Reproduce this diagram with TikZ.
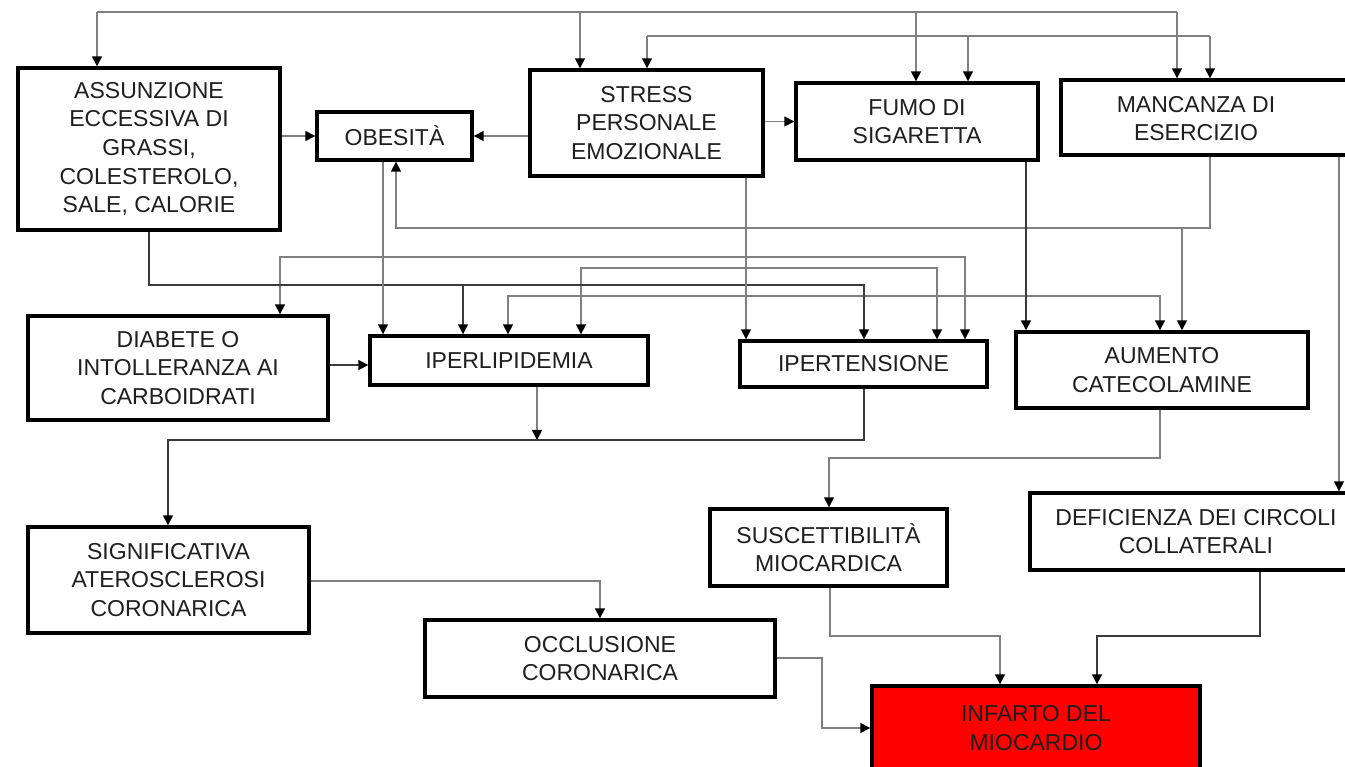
\documentclass[tikz,border=0pt]{standalone}
\usepackage{fontspec}
\setmainfont{Liberation Sans}
\usetikzlibrary{arrows.meta}
\definecolor{lineG}{HTML}{808080}
\definecolor{lineD}{HTML}{3A3A3A}
\definecolor{infred}{HTML}{FF0000}
\definecolor{txt}{HTML}{1E1E1E}
\tikzset{
  boxfont/.style={font=\fontsize{23}{28.7}\selectfont},
  box/.style={draw=black, line width=3.4pt, fill=white, rectangle, inner sep=0pt,
              align=center, boxfont, text=txt},
  lbl/.style={inner sep=0pt, align=center, boxfont, text=txt},
  conn/.style={draw=lineG, line width=1.6pt},
  connd/.style={draw=lineD, line width=1.6pt},
  arr/.style={-{Triangle[length=10pt,width=10pt,color=black]}},
  arrboth/.style={{Triangle[length=10pt,width=10pt,color=black]}-{Triangle[length=10pt,width=10pt,color=black]}},
}
\begin{document}
\begin{tikzpicture}[x=1pt,y=-1pt]
\useasboundingbox (0,0) rectangle (1345,767);
\clip (0,0) rectangle (1345,767);

% ---- boxes ----
\node[box, minimum width=262pt, minimum height=162pt] (assun) at (149,149)
  {ASSUNZIONE\\ECCESSIVA DI\\GRASSI,\\COLESTEROLO,\\SALE, CALORIE};
\node[box, minimum width=155pt, minimum height=48pt] (obes) at (394.5,136) {OBESITÀ};
\node[box, minimum width=233pt, minimum height=106pt] (stress) at (646.5,123)
  {STRESS\\PERSONALE\\EMOZIONALE};
\node[box, minimum width=242pt, minimum height=77pt] (fumo) at (917,121.5) {FUMO DI\\SIGARETTA};
\node[box, minimum width=340pt, minimum height=75pt] (manc) at (1231,117.5) {};
\node[lbl] (manct) at (1196,118.5) {MANCANZA DI\\ESERCIZIO};
\node[box, minimum width=300pt, minimum height=104pt] (diab) at (178,368)
  {DIABETE O\\INTOLLERANZA AI\\CARBOIDRATI};
\node[box, minimum width=278pt, minimum height=49pt] (iperl) at (509,360.5) {IPERLIPIDEMIA};
\node[box, minimum width=247pt, minimum height=46pt] (ipert) at (863.5,364) {IPERTENSIONE};
\node[box, minimum width=292pt, minimum height=76pt] (aum) at (1162,370) {AUMENTO\\CATECOLAMINE};
\node[box, minimum width=237pt, minimum height=77pt] (susc) at (828.5,547.5)
  {SUSCETTIBILITÀ\\MIOCARDICA};
\node[box, minimum width=332pt, minimum height=77pt] (defic) at (1196,531.5)
  {DEFICIENZA DEI CIRCOLI\\COLLATERALI};
\node[box, minimum width=281pt, minimum height=106pt] (signif) at (168.5,580)
  {SIGNIFICATIVA\\ATEROSCLEROSI\\CORONARICA};
\node[box, minimum width=350pt, minimum height=77pt] (occl) at (600,658.5) {OCCLUSIONE\\CORONARICA};
\node[box, fill=infred, minimum width=328pt, minimum height=84pt] (inf) at (1036,728)
  {INFARTO DEL\\MIOCARDIO};

% ---- top feed lines ----
\coordinate (ta) at (97,12);  \coordinate (tc) at (580,12);
\coordinate (td) at (916,12); \coordinate (tb) at (1177,12);
\draw[conn] (ta) -- (tb);
\draw[conn,arr] (ta) -- (ta |- assun.north);
\draw[conn,arr] (tc) -- (tc |- stress.north);
\draw[conn,arr] (td) -- (td |- fumo.north);
\draw[conn,arr] (tb) -- (tb |- manc.north);

\coordinate (sa) at (647,36); \coordinate (sb) at (968,36); \coordinate (sc) at (1210,36);
\draw[conn] (sa) -- (sc);
\draw[conn,arr] (sa) -- (sa |- stress.north);
\draw[conn,arr] (sb) -- (sb |- fumo.north);
\draw[conn,arr] (sc) -- (sc |- manc.north);

% ---- first row links ----
\draw[conn,arr] (assun.east |- obes.west) -- (obes.west);
\draw[conn,arr] (stress.west |- obes.east) -- (obes.east);
\draw[conn,arr] (stress.east |- fumo.west) -- (fumo.west);

% ---- exercise -> obesity / catecholamines ----
\coordinate (m1) at (1210,228); \coordinate (m2) at (396,228); \coordinate (m3) at (1182,228);
\draw[conn,arr] (manc.south -| m1) -- (m1) -- (m2) -- (obes.south -| m2);
\draw[conn,arr] (m3) -- (aum.north -| m3);

% ---- horizontal distribution lines ----
\coordinate (b1) at (280,257); \coordinate (b2) at (965,257);
\draw[conn,arrboth] (diab.north -| b1) -- (b1) -- (b2) -- (ipert.north -| b2);
\coordinate (c1) at (581,268); \coordinate (c2) at (937,268);
\draw[conn,arrboth] (iperl.north -| c1) -- (c1) -- (c2) -- (ipert.north -| c2);
\coordinate (d1) at (508,296); \coordinate (d2) at (1160,296);
\draw[conn,arrboth] (iperl.north -| d1) -- (d1) -- (d2) -- (aum.north -| d2);

\coordinate (a1) at (149,285); \coordinate (a2) at (864,285); \coordinate (a3) at (463,285);
\draw[connd,arr] (assun.south -| a1) -- (a1) -- (a2) -- (ipert.north -| a2);
\draw[connd,arr] (a3) -- (iperl.north -| a3);

% ---- vertical drops ----
\coordinate (xo) at (383,0);
\draw[conn,arr] (obes.south -| xo) -- (iperl.north -| xo);
\coordinate (xs) at (746,0);
\draw[conn,arr] (stress.south -| xs) -- (ipert.north -| xs);
\coordinate (xf) at (1026,0);
\draw[connd,arr] (fumo.south -| xf) -- (aum.north -| xf);
\coordinate (h1) at (1339,0);
\draw[conn,arr] (manc.south -| h1) -- (defic.north -| h1);

\coordinate (yd) at (0,365);
\draw[connd,arr] (diab.east |- yd) -- (iperl.west |- yd);

% ---- lower links ----
\coordinate (e1) at (537,440);
\draw[conn,arr] (iperl.south -| e1) -- (e1);
\coordinate (f1) at (864,440); \coordinate (f2) at (168,440);
\draw[connd,arr] (ipert.south -| f1) -- (f1) -- (f2) -- (signif.north -| f2);
\coordinate (g1) at (1160,458); \coordinate (g2) at (829,458);
\draw[conn,arr] (aum.south -| g1) -- (g1) -- (g2) -- (susc.north -| g2);
\coordinate (i1) at (600,581);
\draw[conn,arr] (signif.east |- i1) -- (i1) -- (occl.north -| i1);
\coordinate (j1) at (830,636); \coordinate (j2) at (1000,636);
\draw[conn,arr] (susc.south -| j1) -- (j1) -- (j2) -- (inf.north -| j2);
\coordinate (k1) at (1260,636); \coordinate (k2) at (1097,636);
\draw[connd,arr] (defic.south -| k1) -- (k1) -- (k2) -- (inf.north -| k2);
\coordinate (l1) at (822,658); \coordinate (l2) at (822,728);
\draw[conn,arr] (occl.east |- l1) -- (l1) -- (l2) -- (inf.west |- l2);
\end{tikzpicture}
\end{document}
